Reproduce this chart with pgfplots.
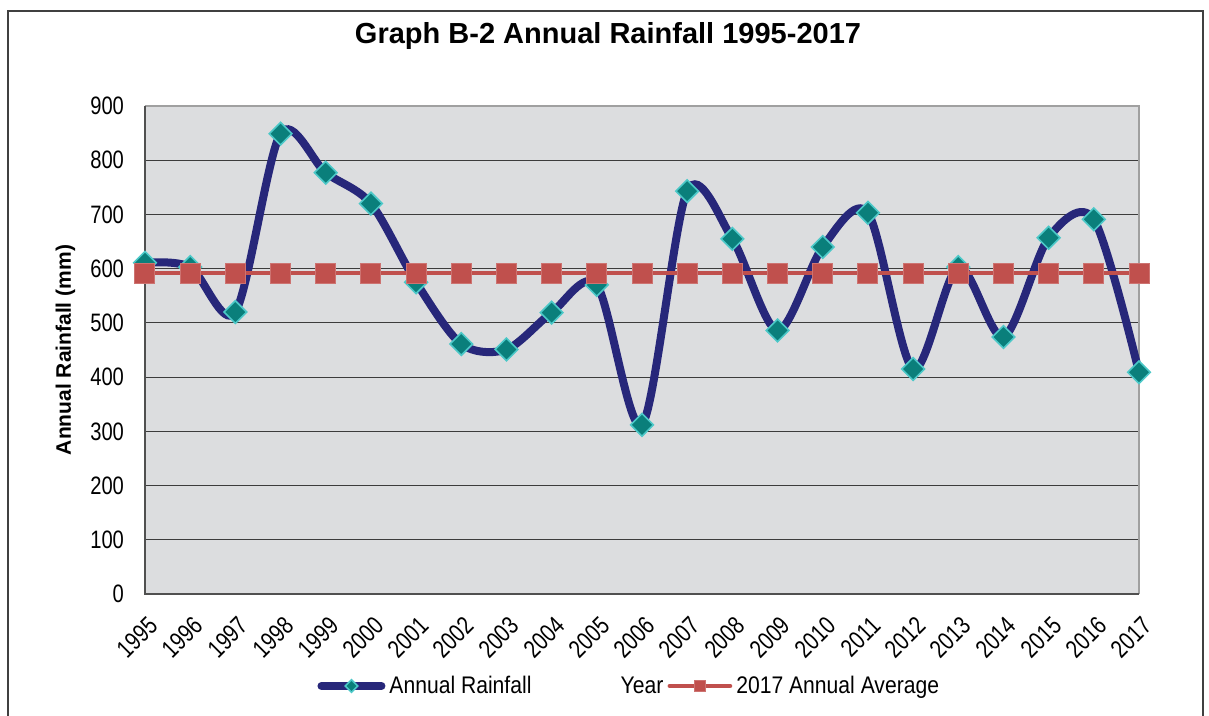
\documentclass[border=0pt]{standalone}
\usepackage{fontspec}
\setmainfont{Liberation Sans}
\newfontfamily\narrowfont{Liberation Sans}[FakeStretch=0.88]
\newfontfamily\tickfont{Liberation Sans}[FakeStretch=0.8]
\usepackage{pgfplots}
\usepackage{pgfplotstable}
\pgfplotsset{compat=1.18}
\definecolor{cNavy}{HTML}{27277A}
\definecolor{cTeal}{HTML}{0A7F7B}
\definecolor{cTealEdge}{HTML}{4CC8C8}
\definecolor{cRed}{HTML}{C0504D}
\definecolor{cBg}{HTML}{DCDDDF}
\definecolor{cGrid}{HTML}{3C3C3C}
\definecolor{cAxisDark}{HTML}{505050}
\definecolor{cAxisLight}{HTML}{A0A0A0}

\pgfplotstableread{
year rain
1995 611
1996 603
1997 520
1998 849
1999 777
2000 720
2001 575
2002 461
2003 451
2004 519
2005 570
2006 312
2007 743
2008 655
2009 486
2010 640
2011 703
2012 415
2013 603
2014 474
2015 657
2016 691
2017 409
}\rainfall

\pgfplotstableread{
year avg
1995 592
1996 592
1997 592
1998 592
1999 592
2000 592
2001 592
2002 592
2003 592
2004 592
2005 592
2006 592
2007 592
2008 592
2009 592
2010 592
2011 592
2012 592
2013 592
2014 592
2015 592
2016 592
2017 592
}\average

\begin{document}
\begin{tikzpicture}[x=1pt,y=1pt]
\useasboundingbox (-72.5,-61) rectangle (532,297);
\draw[line width=1pt, black!75] (-68.5,-70) rectangle (529,291.5);
\begin{axis}[
  scale only axis, width=497pt, height=244pt,
  at={(0,0)}, anchor=south west,
  xmin=1995, xmax=2017, ymin=0, ymax=900,
  xtick={1995,...,2017}, ytick={0,100,...,900},
  clip=false,
  axis line style={draw=none},
  axis background/.style={fill=cBg},
  ymajorgrids, grid style={cGrid, line width=0.6pt},
  major tick length=0pt,
  /pgf/number format/1000 sep={},
  /pgf/number format/assume math mode=true,
  yticklabel style={font=\tickfont\fontsize{12.6}{14}\selectfont, xshift=-7pt},
  xticklabel style={font=\tickfont\fontsize{12.6}{14}\selectfont, yshift=-9pt, xshift=1pt, rotate=45, anchor=north east, inner sep=1pt},
  title={Graph B-2 Annual Rainfall 1995-2017},
  title style={font=\bfseries\fontsize{14.5}{17}\selectfont, at={(axis description cs:0.4658,1.1025)}, anchor=base},
  ylabel={Annual Rainfall (mm)},
  ylabel style={font=\bfseries\fontsize{10.5}{12}\selectfont, at={(axis description cs:-0.080,0.5)}, anchor=center},
  xlabel={Year},
  xlabel style={font=\narrowfont\fontsize{12}{14}\selectfont, at={(axis description cs:0.5,-0.2029)}, anchor=base},
  legend style={draw=none, fill=none, at={(axis description cs:0.1731,-0.1885)}, anchor=west,
    inner sep=0pt, font=\narrowfont\fontsize{12}{14}\selectfont,
    /tikz/every even column/.append style={column sep=66pt}},
  legend columns=2, legend cell align=left,
  legend image code/.code={\draw[mark repeat=2, mark phase=2, #1, every mark/.append style={scale=0.55}]
    plot coordinates {(0pt,0pt) (15pt,0pt) (30pt,0pt)};},
]
\draw[cAxisLight, line width=1pt] (rel axis cs:0,1) -- (rel axis cs:1,1) -- (rel axis cs:1,0);
\draw[cAxisDark, line width=1pt] (rel axis cs:0,1) -- (rel axis cs:0,0) -- (rel axis cs:1,0);
\addplot[smooth, cNavy, line width=4pt, line cap=round, mark=square*, mark size=4pt,
  mark options={rotate=45, fill=cTeal, draw=cTealEdge, line width=0.8pt, solid}]
  table[x=year, y=rain] {\rainfall};
\addlegendentry{Annual Rainfall}
\addplot[cRed, line width=2.4pt, line cap=round, mark=square*, mark size=5pt,
  mark options={fill=cRed, draw=cRed!80!white, line width=0.5pt}]
  table[x=year, y=avg] {\average};
\addlegendentry{2017 Annual Average}
\end{axis}
\end{tikzpicture}
\end{document}
